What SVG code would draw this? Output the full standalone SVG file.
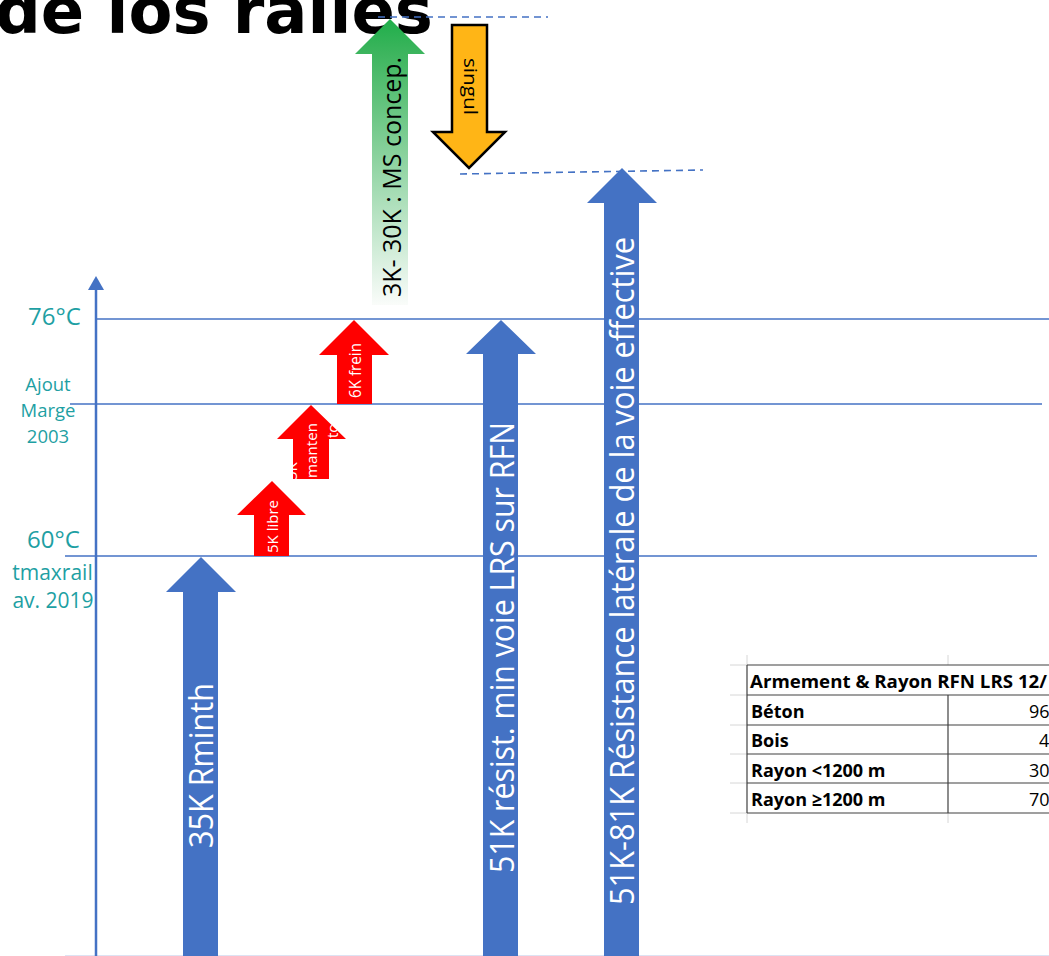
<svg xmlns="http://www.w3.org/2000/svg" width="1049" height="956" viewBox="0 0 1049 956">
<defs>
<linearGradient id="gGreen" gradientUnits="userSpaceOnUse" x1="0" y1="19" x2="0" y2="305">
<stop offset="0" stop-color="#1FAE4A"/>
<stop offset="0.12" stop-color="#3DB55E"/>
<stop offset="1" stop-color="#FAFCFA"/>
</linearGradient>
<clipPath id="clipB"><path d="M293,479 V439 H277 L311,405 L346,439 H329 V479 Z"/></clipPath>
</defs>
<style>
.hl{stroke:#4472C4;stroke-width:1.4;fill:none}
.dash{stroke:#4472C4;stroke-width:1.6;stroke-dasharray:7 5;fill:none}
.blue{fill:#4472C4}
.red{fill:#FF0000}
.wt{fill:#FFFFFF;font-family:"Open Sans",sans-serif}
.lbl{fill:#1E9FA3;font-family:"Open Sans",sans-serif}
.tb{font-family:"Open Sans",sans-serif;font-size:18px;fill:#000000}
.grid{stroke:#D6D6D6;stroke-width:1}
.tline{stroke:#404040;stroke-width:1.2}
</style>
<rect width="1049" height="956" fill="#FFFFFF"/>

<g id="title">
<text x="-5" y="33" font-family="DejaVu Sans, sans-serif" font-weight="bold" font-size="64" fill="#000000">de los railes</text>
</g>

<g id="connectors">
<line class="hl" x1="96" y1="319" x2="1049" y2="319"/>
<line class="hl" x1="70" y1="404" x2="1042" y2="404"/>
<line class="hl" x1="65" y1="556" x2="1037" y2="556"/>
<line x1="65" y1="955.5" x2="1049" y2="955.5" stroke="#DDE3F3" stroke-width="1"/>
<line x1="96" y1="956" x2="96" y2="288" stroke="#4472C4" stroke-width="2.5"/>
<path d="M88,290 L96,276 L104,290 Z" fill="#4472C4"/>
<line class="dash" x1="378" y1="17" x2="548" y2="17"/>
<line class="dash" x1="460" y1="174" x2="703" y2="170"/>
</g>

<g id="labels">
<text class="lbl" x="28" y="325" font-size="24">76°C</text>
<text class="lbl" x="48" y="391" font-size="18.5" text-anchor="middle">Ajout</text>
<text class="lbl" x="48" y="417" font-size="18.5" text-anchor="middle">Marge</text>
<text class="lbl" x="48" y="443" font-size="18.5" text-anchor="middle">2003</text>
<text class="lbl" x="27" y="548" font-size="24">60°C</text>
<text class="lbl" x="52.5" y="580" font-size="21" text-anchor="middle">tmaxrail</text>
<text class="lbl" x="53" y="608" font-size="21" text-anchor="middle">av. 2019</text>
</g>

<g id="arrow-35k">
<path class="blue" d="M183,956 V592 H166 L201,557 L236,592 H218 V956 Z"/>
<text class="wt" font-size="32" textLength="165" lengthAdjust="spacingAndGlyphs" transform="translate(213,848) rotate(-90)">35K Rminth</text>
</g>

<g id="arrow-5k-libre">
<path class="red" d="M254,556 V515 H237 L272,481 L306,515 H289 V556 Z"/>
<text class="wt" font-size="15" textLength="53" lengthAdjust="spacingAndGlyphs" transform="translate(278,553) rotate(-90)">5K libre</text>
</g>

<g id="arrow-5k-manten">
<path class="red" d="M293,479 V439 H277 L311,405 L346,439 H329 V479 Z"/>
<g clip-path="url(#clipB)">
<text class="wt" font-size="15" transform="translate(297,480) rotate(-90)">5K</text>
<text class="wt" font-size="15" textLength="55" lengthAdjust="spacingAndGlyphs" transform="translate(317,478) rotate(-90)">manten</text>
<text class="wt" font-size="15" transform="translate(338,438) rotate(-90)">to</text>
</g>
</g>

<g id="arrow-6k-frein">
<path class="red" d="M337,404 V355 H319 L354,320 L389,355 H372 V404 Z"/>
<text class="wt" font-size="15.5" textLength="55" lengthAdjust="spacingAndGlyphs" transform="translate(361,398) rotate(-90)">6K frein</text>
</g>

<g id="arrow-ms-concep">
<path d="M372,305 V54 H355 L390,19 L425,54 H408 V305 Z" fill="url(#gGreen)"/>
<text font-family="Open Sans, sans-serif" font-size="26" fill="#000000" textLength="240" lengthAdjust="spacingAndGlyphs" transform="translate(401,297) rotate(-90)">3K- 30K : MS concep.</text>
</g>

<g id="arrow-singul">
<path d="M452,25 H487 V132 H505 L469,168 L433,132 H452 Z" fill="#FFB516" stroke="#000000" stroke-width="2.5" stroke-linejoin="miter"/>
<text font-family="Open Sans, sans-serif" font-size="19" fill="#000000" textLength="57" lengthAdjust="spacingAndGlyphs" transform="translate(464,58) rotate(90)">singul</text>
</g>

<g id="arrow-51k-min">
<path class="blue" d="M483,956 V354 H466 L501,320 L536,354 H518 V956 Z"/>
<text class="wt" font-size="33" textLength="451" lengthAdjust="spacingAndGlyphs" transform="translate(514,873) rotate(-90)">51K résist. min voie LRS sur RFN</text>
</g>

<g id="arrow-51k-81k">
<path class="blue" d="M604,956 V203 H587 L622,168 L657,203 H639 V956 Z"/>
<text class="wt" font-size="32" textLength="668" lengthAdjust="spacingAndGlyphs" transform="translate(634,905) rotate(-90)">51K-81K Résistance latérale de la voie effective</text>
</g>

<g id="table">
<line class="grid" x1="730" y1="665" x2="747" y2="665"/>
<line class="grid" x1="730" y1="695" x2="747" y2="695"/>
<line class="grid" x1="730" y1="725" x2="747" y2="725"/>
<line class="grid" x1="730" y1="754" x2="747" y2="754"/>
<line class="grid" x1="730" y1="783" x2="747" y2="783"/>
<line class="grid" x1="730" y1="813" x2="747" y2="813"/>
<line class="grid" x1="747" y1="655" x2="747" y2="665"/>
<line class="grid" x1="948" y1="655" x2="948" y2="665"/>
<line class="grid" x1="747" y1="813" x2="747" y2="823"/>
<line class="grid" x1="948" y1="813" x2="948" y2="823"/>
<line class="tline" x1="747" y1="665" x2="1049" y2="665"/>
<line class="tline" x1="747" y1="695" x2="1049" y2="695"/>
<line class="tline" x1="747" y1="725" x2="1049" y2="725"/>
<line class="tline" x1="747" y1="754" x2="1049" y2="754"/>
<line class="tline" x1="747" y1="783" x2="1049" y2="783"/>
<line class="tline" x1="747" y1="813" x2="1049" y2="813"/>
<line class="tline" x1="747" y1="665" x2="747" y2="813"/>
<line class="tline" x1="948" y1="695" x2="948" y2="813"/>
<text class="tb" x="750" y="688" font-weight="bold" textLength="297" lengthAdjust="spacingAndGlyphs">Armement &amp; Rayon RFN LRS 12/</text>
<text class="tb" x="751" y="718" font-weight="bold">Béton</text>
<text class="tb" x="751" y="747" font-weight="bold">Bois</text>
<text class="tb" x="751" y="777" font-weight="bold">Rayon &lt;1200 m</text>
<text class="tb" x="751" y="806" font-weight="bold">Rayon ≥1200 m</text>
<text class="tb" x="1029" y="718">96</text>
<text class="tb" x="1039" y="747">4</text>
<text class="tb" x="1029" y="777">30</text>
<text class="tb" x="1029" y="806">70</text>
</g>
</svg>
